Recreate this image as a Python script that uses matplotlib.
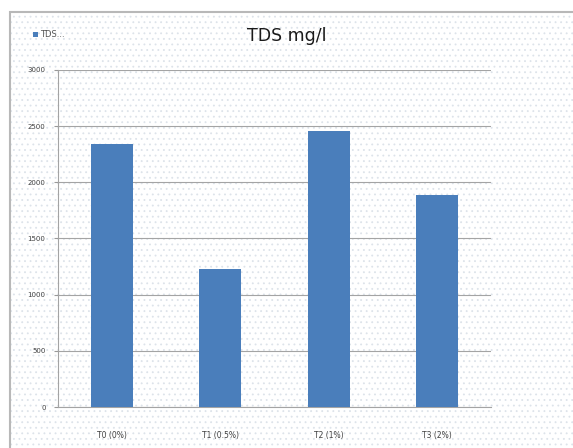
import numpy as np
import matplotlib.pyplot as plt
from matplotlib.patches import Rectangle

'''Chart data'''
categories = ['T0 (0%)', 'T1 (0.5%)', 'T2 (1%)', 'T3 (2%)']
tds_values = [2340, 1230, 2455, 1890]
y_ticks = [0, 500, 1000, 1500, 2000, 2500, 3000]

plt.rcParams['hatch.linewidth'] = 0.6
fig = plt.figure(figsize=(5.73, 4.48), dpi=100)

'''Chart area with dotted fill and border'''
bg = Rectangle((10 / 573, 0), 1.0, 1 - 12 / 448, transform=fig.transFigure,
               facecolor='white', edgecolor='#dde3ea', hatch='...', lw=0, zorder=-5)
fig.patches.append(bg)
border = Rectangle((10 / 573, -0.01), 1.0, 1 - 12 / 448 + 0.01, transform=fig.transFigure,
                   facecolor='none', edgecolor='#b8b8b8', lw=1.5, zorder=5)
fig.patches.append(border)

ax = fig.add_axes([58 / 573, 41 / 448, 433 / 573, 337 / 448])
ax.set_facecolor('none')

x = np.arange(len(categories))
ax.bar(x, tds_values, width=0.39, color='#4a7ebb', zorder=3, label='TDS...')

ax.set_xlim(-0.5, len(categories) - 0.5)
ax.set_ylim(0, 3000)
ax.set_yticks(y_ticks)
ax.set_yticklabels([str(v) for v in y_ticks], fontsize=5, color='#404040')
ax.set_xticks(x)
ax.set_xticklabels(categories, fontsize=5.5, color='#404040')
ax.tick_params(axis='x', length=0, pad=17)
ax.tick_params(axis='y', length=3, width=0.8, color='#999999', pad=6)
ax.grid(axis='y', color='#a4a4a4', lw=0.8, zorder=1)

for side in ['top', 'right']:
    ax.spines[side].set_visible(False)
ax.spines['left'].set_color('#a4a4a4')
ax.spines['bottom'].set_color('#a4a4a4')

fig.text(287 / 573, 1 - 36 / 448, 'TDS mg/l', fontsize=12.5, ha='center', va='center',
         color='#1a1a1a')
ax.legend(loc='upper left', bbox_to_anchor=(-0.075, 1.14), frameon=False, fontsize=6,
          handlelength=0.6, handleheight=0.6, handletextpad=0.3, labelcolor='#555555')

plt.savefig('out.png', dpi=100)
